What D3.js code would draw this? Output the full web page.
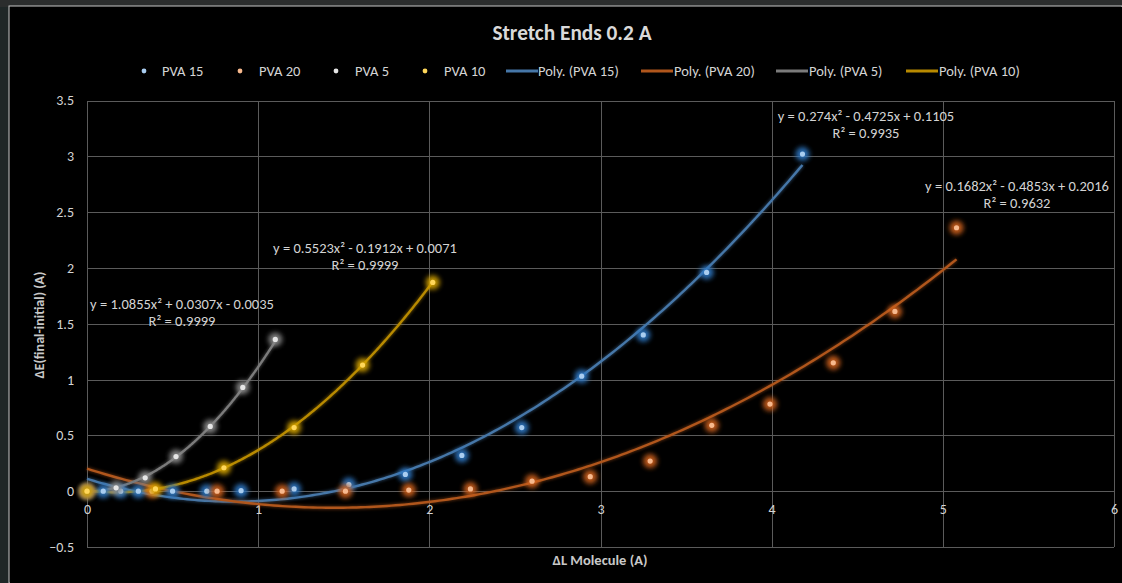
<!DOCTYPE html>
<html>
<head>
<meta charset="utf-8">
<script src="https://cdn.jsdelivr.net/npm/d3@7"></script>
<style>
  html, body { margin: 0; padding: 0; background: #1f2727; }
  svg { display: block; }
  text { font-family: Carlito, Calibri, "Liberation Sans", Arial, sans-serif; }
</style>
</head>
<body>
<svg id="chart" width="1122" height="583"></svg>
<script>
// ---- data -------------------------------------------------------------
const seriesNames = ["PVA 15", "PVA 20", "PVA 5", "PVA 10"];

const pva15X = [0, 0.095, 0.197, 0.3, 0.5, 0.7, 0.9, 1.21, 1.53, 1.86, 2.19, 2.54, 2.89, 3.25, 3.62, 4.18];
const pva15Y = [0, 0, 0, 0, 0, 0, 0.005, 0.02, 0.06, 0.15, 0.32, 0.57, 1.03, 1.40, 1.96, 3.02];

const pva20X = [0, 0.38, 0.76, 1.14, 1.51, 1.88, 2.24, 2.6, 2.94, 3.29, 3.65, 3.99, 4.36, 4.72, 5.08];
const pva20Y = [0, 0, 0, 0, 0, 0.01, 0.02, 0.09, 0.13, 0.27, 0.59, 0.78, 1.15, 1.61, 2.36];

const pva5X = [0, 0.17, 0.34, 0.52, 0.72, 0.91, 1.10];
const pva5Y = [0, 0.03, 0.12, 0.31, 0.58, 0.93, 1.36];

const pva10X = [0, 0.4, 0.8, 1.21, 1.61, 2.02];
const pva10Y = [0, 0.02, 0.21, 0.57, 1.13, 1.87];

// quadratic trendline coefficients [a, b, c] for y = a x^2 + b x + c
const pva15Fit = [0.274, -0.4725, 0.1105];
const pva20Fit = [0.1682, -0.4853, 0.2016];
const pva5Fit = [1.0855, 0.0307, -0.0035];
const pva10Fit = [0.5523, -0.1912, 0.0071];

const pva15R2 = "0.9935";
const pva20R2 = "0.9632";
const pva5R2 = "0.9999";
const pva10R2 = "0.9999";

const xTicks = [0, 1, 2, 3, 4, 5, 6];
const yTicks = [-0.5, 0, 0.5, 1, 1.5, 2, 2.5, 3, 3.5];

// ---- styling ----------------------------------------------------------
const styles = {
  "PVA 15": { dot: "#a9cdf0", glow: "#2f78c4", line: "#4677a8" },
  "PVA 20": { dot: "#f7b98e", glow: "#d0621c", line: "#b0561c" },
  "PVA 5":  { dot: "#e6e6e6", glow: "#8a8a8a", line: "#7b7b7b" },
  "PVA 10": { dot: "#ffd75a", glow: "#d4a300", line: "#b88a00" }
};

const series = [
  { name: "PVA 15", xs: pva15X, ys: pva15Y, fit: pva15Fit, r2: pva15R2, label: [866, 116] },
  { name: "PVA 20", xs: pva20X, ys: pva20Y, fit: pva20Fit, r2: pva20R2, label: [1017, 186] },
  { name: "PVA 5",  xs: pva5X,  ys: pva5Y,  fit: pva5Fit,  r2: pva5R2,  label: [182, 304] },
  { name: "PVA 10", xs: pva10X, ys: pva10Y, fit: pva10Fit, r2: pva10R2, label: [365, 248] }
];

const svg = d3.select("#chart");

// glow filters
const defs = svg.append("defs");
defs.append("filter").attr("id", "glow").attr("x", "-100%").attr("y", "-100%")
  .attr("width", "300%").attr("height", "300%")
  .append("feGaussianBlur").attr("stdDeviation", 2.8);
defs.append("filter").attr("id", "lineGlow").attr("x", "-10%").attr("y", "-10%")
  .attr("width", "120%").attr("height", "120%")
  .append("feGaussianBlur").attr("stdDeviation", 1.4);

// chart frame
svg.append("rect").attr("x", 0).attr("y", 0).attr("width", 1122).attr("height", 7).attr("fill", "#2b2d2d");
svg.append("rect").attr("x", 9).attr("y", 6).attr("width", 1113).attr("height", 577)
  .attr("fill", "#000").attr("stroke", "#c8c8c8").attr("stroke-width", 1);
svg.append("rect").attr("x", 10).attr("y", 7).attr("width", 1112).attr("height", 576).attr("fill", "#000");

// scales
const x = d3.scaleLinear().domain([0, 6]).range([87, 1114]);
const y = d3.scaleLinear().domain([-0.5, 3.5]).range([547, 100.5]);

// gridlines
const grid = svg.append("g").attr("stroke", "#5b5b5b").attr("stroke-width", 1).attr("shape-rendering", "crispEdges");
grid.selectAll("line.v").data(xTicks).join("line")
  .attr("x1", d => Math.round(x(d)) + 0.5).attr("x2", d => Math.round(x(d)) + 0.5)
  .attr("y1", y(3.5)).attr("y2", y(-0.5));
grid.selectAll("line.h").data(yTicks).join("line")
  .attr("y1", d => Math.round(y(d)) + 0.5).attr("y2", d => Math.round(y(d)) + 0.5)
  .attr("x1", x(0)).attr("x2", x(6));

// axes (labels only, Excel-style)
const yAxis = d3.axisLeft(y).tickValues(yTicks).tickSize(0).tickPadding(0).tickFormat(d3.format("~g"));
svg.append("g").attr("transform", "translate(74,0)").call(yAxis)
  .call(g => g.select(".domain").remove())
  .selectAll("text").attr("fill", "#d4d4d4").attr("font-size", 14);

const xAxis = d3.axisBottom(x).tickValues(xTicks).tickSize(0).tickPadding(0).tickFormat(d3.format("d"));
svg.append("g").attr("transform", `translate(0,${y(0) + 13})`).call(xAxis)
  .call(g => g.select(".domain").remove())
  .selectAll("text").attr("fill", "#d4d4d4").attr("font-size", 14);

// trendlines
const poly = (c, v) => c[0] * v * v + c[1] * v + c[2];
const line = d3.line().x(d => x(d[0])).y(d => y(d[1])).curve(d3.curveLinear);
const trend = svg.append("g");
series.forEach(s => {
  const x0 = d3.min(s.xs), x1 = d3.max(s.xs);
  const pts = d3.range(0, 201).map(i => { const v = x0 + (x1 - x0) * i / 200; return [v, poly(s.fit, v)]; });
  trend.append("path").attr("d", line(pts)).attr("fill", "none")
    .attr("stroke", styles[s.name].line).attr("stroke-width", 4).attr("opacity", 0.45)
    .attr("filter", "url(#lineGlow)");
  trend.append("path").attr("d", line(pts)).attr("fill", "none")
    .attr("stroke", styles[s.name].line).attr("stroke-width", 2.4);
});

// data points
const points = svg.append("g");
series.forEach(s => {
  const data = s.xs.map((v, i) => [v, s.ys[i]]);
  points.append("g").selectAll("circle").data(data).join("circle")
    .attr("cx", d => x(d[0])).attr("cy", d => y(d[1])).attr("r", 7)
    .attr("fill", styles[s.name].glow).attr("opacity", 0.9).attr("filter", "url(#glow)");
  points.append("g").selectAll("circle").data(data).join("circle")
    .attr("cx", d => x(d[0])).attr("cy", d => y(d[1])).attr("r", 2.6)
    .attr("fill", styles[s.name].dot);
});

// trendline equations
const fmt = v => String(Math.abs(v));
series.forEach(s => {
  const [a, b, c] = s.fit;
  const eq = `y = ${fmt(a)}x² ${b < 0 ? "-" : "+"} ${fmt(b)}x ${c < 0 ? "-" : "+"} ${fmt(c)}`;
  const g = svg.append("g").attr("fill", "#d4d4d4").attr("font-size", 14.5).attr("text-anchor", "middle");
  g.append("text").attr("x", s.label[0]).attr("y", s.label[1] + 5).text(eq);
  g.append("text").attr("x", s.label[0]).attr("y", s.label[1] + 22).text(`R² = ${s.r2}`);
});

// title
svg.append("text").attr("x", 572).attr("y", 40).attr("text-anchor", "middle")
  .attr("fill", "#d9d9d9").attr("font-size", 21.3).attr("font-weight", "bold")
  .text("Stretch Ends 0.2 A");

// axis titles
svg.append("text").attr("x", 600).attr("y", 565).attr("text-anchor", "middle")
  .attr("fill", "#c8c8c8").attr("font-size", 14.5).attr("font-weight", "bold")
  .text("ΔL Molecule (A)");
svg.append("text").attr("transform", "translate(44,325) rotate(-90)").attr("text-anchor", "middle")
  .attr("fill", "#c8c8c8").attr("font-size", 14).attr("font-weight", "bold")
  .text("ΔE(final-initial) (A)");

// legend
const legendY = 71;
const legendMarkers = [
  { name: "PVA 15", mx: 144, tx: 162 },
  { name: "PVA 20", mx: 240, tx: 259 },
  { name: "PVA 5",  mx: 336, tx: 355 },
  { name: "PVA 10", mx: 425, tx: 444 }
];
const legendLines = [
  { name: "PVA 15", lx: 506, tx: 538 },
  { name: "PVA 20", lx: 641, tx: 674 },
  { name: "PVA 5",  lx: 776, tx: 809 },
  { name: "PVA 10", lx: 906, tx: 939 }
];
const lg = svg.append("g").attr("font-size", 14.5).attr("fill", "#d4d4d4");
legendMarkers.forEach(m => {
  lg.append("circle").attr("cx", m.mx).attr("cy", legendY).attr("r", 2.4).attr("fill", styles[m.name].dot);
  lg.append("text").attr("x", m.tx).attr("y", legendY + 5).text(m.name);
});
legendLines.forEach(m => {
  lg.append("line").attr("x1", m.lx).attr("x2", m.lx + 32).attr("y1", legendY).attr("y2", legendY)
    .attr("stroke", styles[m.name].line).attr("stroke-width", 3);
  lg.append("text").attr("x", m.tx).attr("y", legendY + 5).text(`Poly. (${m.name})`);
});
</script>
</body>
</html>
